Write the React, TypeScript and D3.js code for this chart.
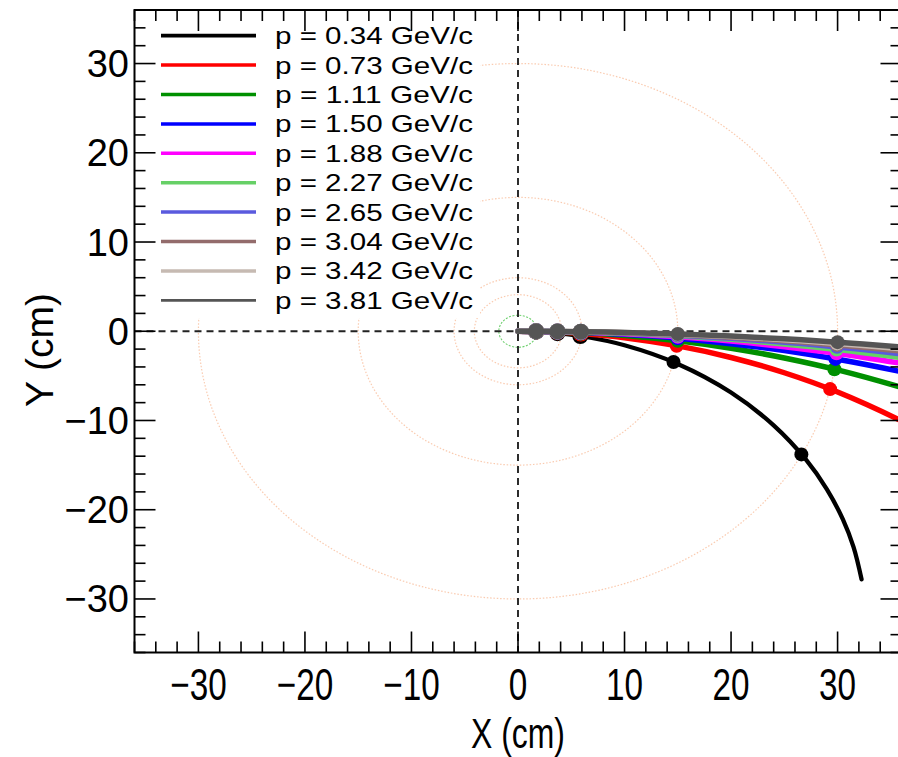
import React from "react";
import * as d3 from "d3";

// ---- data ----
const momenta = ["0.34", "0.73", "1.11", "1.50", "1.88", "2.27", "2.65", "3.04", "3.42", "3.81"];
const colors = ["#000000", "#ff0000", "#009000", "#0000ff", "#ff00ff", "#66d066", "#5a5ade", "#936c6c", "#c6bab2", "#555555"];

// track points [x, y] in cm
const track034: [number, number][] = [[0, 0], [3, -0.14], [6, -0.56], [10, -1.57], [15, -3.66], [20, -6.86], [24, -10.54], [27, -14.33], [29, -17.71], [30.5, -21.09], [31.5, -24.2], [32.25, -27.8]];
const track073: [number, number][] = [[0, 0], [3, -0.07], [6, -0.26], [10, -0.72], [15, -1.64], [20, -2.94], [25, -4.65], [30, -6.81], [36, -10.05], [38, -11.31]];
const track111: [number, number][] = [[0, 0], [6, -0.17], [10, -0.47], [15, -1.07], [20, -1.9], [25, -2.99], [30, -4.33], [36, -6.3], [38, -7.05]];
const track150: [number, number][] = [[0, 0], [6, -0.12], [10, -0.35], [15, -0.78], [20, -1.39], [25, -2.17], [30, -3.14], [36, -4.54], [38, -5.07]];
const track188: [number, number][] = [[0, 0], [6, -0.1], [10, -0.28], [15, -0.62], [20, -1.1], [25, -1.73], [30, -2.49], [36, -3.6], [38, -4.01]];
const track227: [number, number][] = [[0, 0], [6, -0.08], [10, -0.23], [15, -0.51], [20, -0.91], [25, -1.43], [30, -2.06], [36, -2.97], [38, -3.31]];
const track265: [number, number][] = [[0, 0], [6, -0.07], [10, -0.2], [15, -0.44], [20, -0.78], [25, -1.22], [30, -1.76], [36, -2.53], [38, -2.82]];
const track304: [number, number][] = [[0, 0], [6, -0.06], [10, -0.17], [15, -0.38], [20, -0.68], [25, -1.06], [30, -1.53], [36, -2.21], [38, -2.46]];
const track342: [number, number][] = [[0, 0], [6, -0.05], [10, -0.15], [15, -0.34], [20, -0.6], [25, -0.94], [30, -1.36], [36, -1.96], [38, -2.18]];
const track381: [number, number][] = [[0, 0], [6, -0.05], [10, -0.14], [15, -0.3], [20, -0.54], [25, -0.85], [30, -1.22], [36, -1.76], [38, -1.96]];

// hit markers [x, y] in cm
const hits034: [number, number][] = [[1.7, -0.05], [3.7, -0.22], [5.85, -0.53], [14.6, -3.45], [26.6, -13.8]];
const hits073: [number, number][] = [[1.7, -0.02], [3.7, -0.1], [5.9, -0.25], [14.9, -1.62], [29.3, -6.48]];
const hits111: [number, number][] = [[1.7, -0.02], [3.7, -0.07], [5.9, -0.16], [15, -1.06], [29.7, -4.25]];
const hits150: [number, number][] = [[1.7, -0.01], [3.7, -0.05], [5.9, -0.12], [15, -0.78], [29.8, -3.1]];
const hits188: [number, number][] = [[1.7, -0.01], [3.7, -0.04], [5.9, -0.1], [15, -0.62], [29.9, -2.47]];
const hits227: [number, number][] = [[1.7, -0.01], [3.7, -0.03], [5.9, -0.08], [15, -0.51], [29.9, -2.05]];
const hits265: [number, number][] = [[1.7, -0.01], [3.7, -0.03], [5.9, -0.07], [15, -0.44], [29.95, -1.75]];
const hits304: [number, number][] = [[1.7, -0.01], [3.7, -0.02], [5.9, -0.06], [15, -0.38], [29.95, -1.53]];
const hits342: [number, number][] = [[1.7, 0], [3.7, -0.02], [5.9, -0.05], [15, -0.34], [29.95, -1.36]];
const hits381: [number, number][] = [[1.7, 0], [3.7, -0.02], [5.9, -0.05], [15, -0.3], [30, -1.22]];

const tracks = [track034, track073, track111, track150, track188, track227, track265, track304, track342, track381];
const hits = [hits034, hits073, hits111, hits150, hits188, hits227, hits265, hits304, hits342, hits381];

// detector layer radii (cm)
const layerRadii = [30, 15, 6, 4.1];
const innerLayerRadius = [1.8];

const xTicks = [-30, -20, -10, 0, 10, 20, 30];
const yTicks = [-30, -20, -10, 0, 10, 20, 30];
const xDomain: [number, number] = [-36, 36];
const yDomain: [number, number] = [-36, 36];

export default function App() {
  const W = 898, H = 757;
  const L = 134.5, R = 901.5, T = 10, B = 652.5;
  const x = d3.scaleLinear().domain(xDomain).range([L, R]);
  const y = d3.scaleLinear().domain(yDomain).range([B, T]);
  const line = d3.line<[number, number]>().x(d => x(d[0])).y(d => y(d[1])).curve(d3.curveCatmullRom.alpha(0.5));

  const minorX = d3.range(-36, 36.01, 2);
  const minorY = d3.range(-36, 36.01, 2);
  const ellipse = (r: number) => ({ cx: x(0), cy: y(0), rx: x(r) - x(0), ry: y(0) - y(r) });

  const lw = [4.3, 5.5, 5.5, 5.5, 5.5, 5.5, 5.5, 5.5, 5.5, 5.5];
  const legW = [3.8, 3.5, 3.5, 3.5, 3.5, 3.5, 3.5, 3.5, 3.5, 2.8];
  const font = "'Liberation Sans', Arial, sans-serif";

  return (
    <svg width={W} height={H} style={{ position: "absolute", left: 0, top: 0, background: "#fff" }}>
      <defs>
        <clipPath id="plotclip"><rect x={L} y={T} width={R - L} height={B - T} /></clipPath>
      </defs>
      <rect x={0} y={0} width={W} height={H} fill="#fff" />
      <g clipPath="url(#plotclip)">
        {layerRadii.map((r, i) => {
          const e = ellipse(r);
          return <ellipse key={i} {...e} fill="none" stroke="#f6a070" strokeOpacity={0.55} strokeWidth={1.2} strokeDasharray="1.5,1.8" />;
        })}
        {innerLayerRadius.map((r, i) => {
          const e = ellipse(r);
          return <ellipse key={"g" + i} {...e} fill="none" stroke="#6fd06f" strokeWidth={1.1} strokeDasharray="2,1.5" />;
        })}
        <line x1={L} x2={R} y1={y(0)} y2={y(0)} stroke="#222" strokeWidth={1.9} strokeDasharray="7,5" />
        <line x1={x(0)} x2={x(0)} y1={T} y2={B} stroke="#222" strokeWidth={1.9} strokeDasharray="7,5" />
        {tracks.map((t, i) => (
          <g key={i}>
            <path d={line(t) || ""} fill="none" stroke={colors[i]} strokeWidth={lw[i]} strokeLinecap="round" />
            {hits[i].map((h, j) => (
              <circle key={j} cx={x(h[0])} cy={y(h[1])} r={j < 3 ? 8 : 7} fill={colors[i]} />
            ))}
          </g>
        ))}
      </g>
      {/* legend */}
      <rect x={158} y={22} width={322} height={296} fill="#fff" />
      {momenta.map((p, i) => {
        const yy = 35.7 + i * 29.4;
        return (
          <g key={i}>
            <line x1={161} x2={256} y1={yy} y2={yy} stroke={colors[i]} strokeWidth={legW[i]} />
            <text x={275} y={yy + 8.5} fontFamily={font} fontSize={24} textLength={198} lengthAdjust="spacingAndGlyphs" fill="#000">{`p = ${p} GeV/c`}</text>
          </g>
        );
      })}
      {/* frame & ticks */}
      <g stroke="#000" strokeWidth={1.6}>
        {minorX.map((v, i) => {
          const major = Math.abs(v % 10) < 1e-6;
          const len = major ? 21 : 11;
          return (
            <g key={"tx" + i}>
              <line x1={x(v)} x2={x(v)} y1={B} y2={B - len} />
              <line x1={x(v)} x2={x(v)} y1={T} y2={T + len} />
            </g>
          );
        })}
        {minorY.map((v, i) => {
          const major = Math.abs(v % 10) < 1e-6;
          const len = major ? 21 : 11;
          return (
            <g key={"ty" + i}>
              <line x1={L} x2={L + len} y1={y(v)} y2={y(v)} />
              <line x1={R} x2={R - len} y1={y(v)} y2={y(v)} />
            </g>
          );
        })}
      </g>
      <rect x={L} y={T} width={R - L} height={B - T} fill="none" stroke="#000" strokeWidth={2} />
      {/* tick labels */}
      {xTicks.map((v, i) => (
        <text key={"xl" + i} transform={`translate(${x(v)},${700}) scale(0.74,1)`} textAnchor="middle" fontFamily={font} fontSize={45} fill="#000">
          {v < 0 ? `\u2212${Math.abs(v)}` : `${v}`}
        </text>
      ))}
      {yTicks.map((v, i) => (
        <text key={"yl" + i} x={129} y={y(v) + 13.5} textAnchor="end" fontFamily={font} fontSize={38} fill="#000">
          {v < 0 ? `\u2212${Math.abs(v)}` : `${v}`}
        </text>
      ))}
      <text transform={`translate(${x(0)},${748}) scale(0.76,1)`} textAnchor="middle" fontFamily={font} fontSize={42} fill="#000">X (cm)</text>
      <text transform={`translate(${53},${350}) rotate(-90)`} textAnchor="middle" fontFamily={font} fontSize={39} fill="#000">Y (cm)</text>
    </svg>
  );
}
